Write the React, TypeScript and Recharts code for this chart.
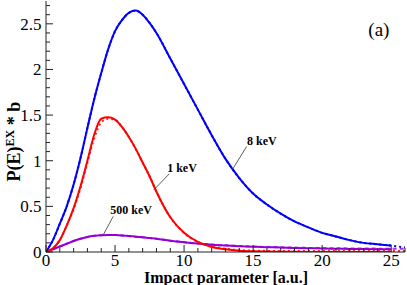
import {
  LineChart,
  Line,
  XAxis,
  YAxis,
  ReferenceLine,
  ReferenceDot
} from "recharts";

// impact parameter grid [a.u.]
const bValues = [
  0, 0.5, 1, 1.5, 2, 2.5, 3, 3.5, 4, 4.5, 5, 5.5, 6, 6.5, 7, 7.5, 8, 9, 10, 11,
  12, 13, 14, 15, 16, 17, 18, 19, 20, 21, 22, 23, 24, 25, 26
];

const kev8Solid = [
  0, 0.13, 0.31, 0.5, 0.74, 1.03, 1.36, 1.68, 1.96, 2.22, 2.42, 2.54, 2.62,
  2.645, 2.6, 2.51, 2.4, 2.12, 1.84, 1.56, 1.28, 1.02, 0.81, 0.64, 0.52, 0.42,
  0.335, 0.27, 0.21, 0.17, 0.13, 0.1, 0.085, 0.07, null
];
const kev8Dotted = [
  0, 0.13, 0.31, 0.5, 0.74, 1.03, 1.36, 1.68, 1.96, 2.22, 2.42, 2.54, 2.62,
  2.645, 2.6, 2.51, 2.4, 2.12, 1.84, 1.56, 1.28, 1.02, 0.81, 0.64, 0.52, 0.42,
  0.335, 0.27, 0.21, 0.17, 0.13, 0.1, 0.085, 0.07, 0.05
];

const kev1Solid = [
  0, 0.04, 0.13, 0.29, 0.48, 0.72, 1.0, 1.29, 1.46, 1.475, 1.45, 1.37, 1.26,
  1.13, 0.98, 0.83, 0.66, 0.38, 0.21, 0.11, 0.055, 0.03, 0.015, 0.008, 0.005,
  0.003, 0.002, 0.001, 0, 0, 0, 0, 0, 0, null
];
const kev1Dotted = [
  0, 0.04, 0.13, 0.29, 0.47, 0.7, 0.98, 1.25, 1.42, 1.46, 1.45, 1.37, 1.26,
  1.13, 0.98, 0.83, 0.66, 0.38, 0.21, 0.11, 0.06, 0.035, 0.02, 0.015, 0.012,
  0.01, 0.01, 0.01, 0.01, 0.01, 0.01, 0.01, 0.01, 0.01, 0.01
];

const kev500Solid = [
  0, 0.03, 0.06, 0.09, 0.12, 0.145, 0.165, 0.177, 0.184, 0.187, 0.186, 0.182,
  0.176, 0.168, 0.161, 0.153, 0.145, 0.124, 0.108, 0.092, 0.08, 0.07, 0.063,
  0.058, 0.053, 0.049, 0.045, 0.042, 0.039, 0.036, 0.034, 0.032, 0.031, 0.03,
  null
];
const kev500Dashed = [
  0, 0.03, 0.06, 0.09, 0.12, 0.145, 0.165, 0.177, 0.184, 0.187, 0.186, 0.182,
  0.176, 0.168, 0.161, 0.153, 0.145, 0.124, 0.108, 0.093, 0.082, 0.073, 0.066,
  0.06, 0.055, 0.051, 0.048, 0.045, 0.043, 0.041, 0.039, 0.038, 0.037, 0.036,
  0.035
];

const xMajor = [0, 5, 10, 15, 20, 25];
const xTicks = [
  0, 1, 2, 3, 4, 5, 6, 7, 8, 9, 10, 11, 12, 13, 14, 15, 16, 17, 18, 19, 20, 21,
  22, 23, 24, 25, 26
];
const yMajor = [0, 0.5, 1, 1.5, 2, 2.5];
const yTicks = [
  0, 0.1, 0.2, 0.3, 0.4, 0.5, 0.6, 0.7, 0.8, 0.9, 1, 1.1, 1.2, 1.3, 1.4, 1.5,
  1.6, 1.7, 1.8, 1.9, 2, 2.1, 2.2, 2.3, 2.4, 2.5, 2.6, 2.7
];

const data = bValues.map((b, i) => ({
  b,
  k8: kev8Solid[i],
  k8d: kev8Dotted[i],
  k1: kev1Solid[i],
  k1d: kev1Dotted[i],
  k500: kev500Solid[i],
  k500d: kev500Dashed[i]
}));

const FONT = "'Liberation Serif', 'Times New Roman', serif";
const AXIS = "#222";

const isMajor = (list: number[], v: number) =>
  list.some((m) => Math.abs(m - v) < 1e-6);

function BottomTick({ x, y, payload }: any) {
  const major = isMajor(xMajor, payload.value);
  return (
    <g>
      <line x1={x} x2={x} y1={y} y2={y - (major ? 7 : 4)} stroke={AXIS} />
      {major && (
        <text x={x} y={y + 14} textAnchor="middle" fontFamily={FONT} fontSize={17} fill="#000">
          {payload.value}
        </text>
      )}
    </g>
  );
}

function TopTick({ x, y, payload }: any) {
  const major = isMajor(xMajor, payload.value);
  return <line x1={x} x2={x} y1={y} y2={y + (major ? 7 : 4)} stroke={AXIS} />;
}

function LeftTick({ x, y, payload }: any) {
  const major = isMajor(yMajor, payload.value);
  return (
    <g>
      <line x1={x} x2={x + (major ? 7 : 4)} y1={y} y2={y} stroke={AXIS} />
      {major && (
        <text x={x - 4.5} y={y + 6} textAnchor="end" fontFamily={FONT} fontSize={17} fill="#000">
          {payload.value}
        </text>
      )}
    </g>
  );
}

function RightTick({ x, y, payload }: any) {
  const major = isMajor(yMajor, payload.value);
  return <line x1={x} x2={x - (major ? 7 : 4)} y1={y} y2={y} stroke={AXIS} />;
}

const noteLabel = (text: string, size: number, bold: boolean) => (props: any) => {
  const vb = props.viewBox || {};
  return (
    <text
      x={vb.x}
      y={vb.y}
      textAnchor="middle"
      fontFamily={FONT}
      fontSize={size}
      fontWeight={bold ? "bold" : "normal"}
      fill="#000"
    >
      {text}
    </text>
  );
};

export default function App() {
  return (
    <div style={{ position: "absolute", left: 0, top: 0, background: "#fff" }}>
      <LineChart
        width={407}
        height={285}
        data={data}
        margin={{ top: 1, right: 2, bottom: 0, left: 0 }}
      >
        <XAxis
          dataKey="b"
          type="number"
          domain={[0, 26]}
          ticks={xTicks}
          interval={0}
          allowDataOverflow
          height={33}
          tickSize={0}
          tickMargin={0}
          tickLine={false}
          axisLine={{ stroke: AXIS }}
          tick={BottomTick}
          label={() => (
            <text x={226} y={282.5} textAnchor="middle" fontFamily={FONT} fontSize={16} fontWeight="bold" fill="#000">
              Impact parameter [a.u.]
            </text>
          )}
        />
        <XAxis
          xAxisId="top"
          orientation="top"
          type="number"
          domain={[0, 26]}
          ticks={xTicks}
          interval={0}
          allowDataOverflow
          height={0}
          tickSize={0}
          tickMargin={0}
          tickLine={false}
          axisLine={{ stroke: AXIS }}
          tick={TopTick}
        />
        <YAxis
          type="number"
          domain={[0, 2.75]}
          ticks={yTicks}
          interval={0}
          allowDataOverflow
          width={46}
          tickSize={0}
          tickMargin={0}
          tickLine={false}
          axisLine={{ stroke: AXIS }}
          tick={LeftTick}
          label={() => (
            <text
              x={20}
              y={141.7}
              transform="rotate(-90, 20, 141.7)"
              textAnchor="middle"
              fontFamily={FONT}
              fontSize={18}
              fontWeight="bold"
              fill="#000"
            >
              P(E)
              <tspan fontSize={12} dy={-6}>EX</tspan>
              <tspan dy={6}> * b</tspan>
            </text>
          )}
        />
        <YAxis
          yAxisId="right"
          orientation="right"
          type="number"
          domain={[0, 2.75]}
          ticks={yTicks}
          interval={0}
          allowDataOverflow
          width={0}
          tickSize={0}
          tickMargin={0}
          tickLine={false}
          axisLine={{ stroke: AXIS }}
          tick={RightTick}
        />

        <Line dataKey="k500d" stroke="#b030f0" strokeWidth={2} strokeDasharray="4 3" dot={false} type="monotone" isAnimationActive={false} />
        <Line dataKey="k1d" stroke="#ff2020" strokeWidth={2} strokeDasharray="2 3" dot={false} type="monotone" isAnimationActive={false} />
        <Line dataKey="k8d" stroke="#0000ff" strokeWidth={2} strokeDasharray="2 3" dot={false} type="monotone" isAnimationActive={false} />
        <Line dataKey="k500" stroke="#9400d3" strokeWidth={2} dot={false} type="monotone" isAnimationActive={false} />
        <Line dataKey="k1" stroke="#ff0000" strokeWidth={2} dot={false} type="monotone" isAnimationActive={false} />
        <Line dataKey="k8" stroke="#0000ff" strokeWidth={2} dot={false} type="monotone" isAnimationActive={false} />

        {/* leader lines for the curve notes */}
        <ReferenceLine segment={[{ x: 14.53, y: 1.156 }, { x: 13.49, y: 0.901 }]} stroke="#333" strokeWidth={0.8} />
        <ReferenceLine segment={[{ x: 8.93, y: 0.857 }, { x: 7.82, y: 0.682 }]} stroke="#333" strokeWidth={0.8} />
        <ReferenceLine segment={[{ x: 4.87, y: 0.39 }, { x: 4.15, y: 0.189 }]} stroke="#333" strokeWidth={0.8} />

        <ReferenceDot x={15.64} y={1.172} r={0} fill="none" stroke="none" label={noteLabel("8 keV", 12, true)} />
        <ReferenceDot x={9.85} y={0.88} r={0} fill="none" stroke="none" label={noteLabel("1 keV", 12, true)} />
        <ReferenceDot x={6.17} y={0.416} r={0} fill="none" stroke="none" label={noteLabel("500 keV", 12, true)} />
        <ReferenceDot x={24.11} y={2.37} r={0} fill="none" stroke="none" label={noteLabel("(a)", 19, false)} />
      </LineChart>
    </div>
  );
}
